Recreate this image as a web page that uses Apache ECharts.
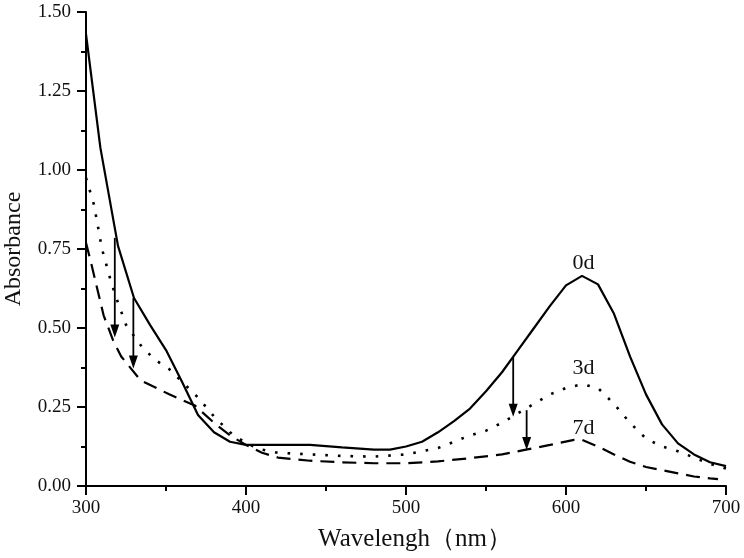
<!DOCTYPE html>
<html>
<head>
<meta charset="utf-8">
<script src="https://cdn.jsdelivr.net/npm/echarts@6/dist/echarts.min.js"></script>
<style>html,body{margin:0;padding:0;background:#fff}#c{width:744px;height:558px}</style>
</head>
<body>
<div id="c"></div>
<script>
// ---- data ----
const xTicks = [300, 400, 500, 600, 700];
const yTicks = [0.00, 0.25, 0.50, 0.75, 1.00, 1.25, 1.50];

const wl0d = [300,309,320,330,340,350,360,370,380,390,400,420,440,460,480,490,500,510,520,530,540,550,560,570,580,590,600,610,620,630,640,650,660,670,680,690,700];
const abs0d = [1.43,1.07,0.76,0.595,0.51,0.43,0.33,0.225,0.17,0.14,0.13,0.13,0.13,0.122,0.115,0.115,0.125,0.14,0.17,0.205,0.245,0.30,0.36,0.43,0.50,0.57,0.635,0.665,0.638,0.545,0.41,0.29,0.195,0.135,0.10,0.075,0.063];

const wl3d = [300,305,310,316,320,325,335,343,352,360,370,380,390,400,410,420,440,460,480,500,520,540,550,560,570,580,590,600,610,620,630,640,650,660,670,680,690,700];
const abs3d = [0.975,0.89,0.75,0.64,0.58,0.51,0.44,0.40,0.37,0.33,0.28,0.22,0.17,0.135,0.115,0.105,0.10,0.095,0.093,0.10,0.12,0.16,0.175,0.20,0.23,0.26,0.29,0.31,0.322,0.31,0.26,0.20,0.15,0.125,0.11,0.09,0.07,0.055];

const wl7d = [300,303,311,317,322,334,352,368,380,390,400,410,420,440,460,480,500,520,540,560,575,590,605,610,620,630,640,650,660,670,680,690,695];
const abs7d = [0.77,0.71,0.54,0.46,0.41,0.335,0.29,0.255,0.20,0.16,0.13,0.105,0.09,0.08,0.075,0.072,0.072,0.078,0.088,0.10,0.115,0.13,0.146,0.146,0.125,0.10,0.077,0.06,0.05,0.04,0.03,0.024,0.022];

const arrowX = [318, 329.6, 567, 575.4];
const arrowFrom = [0.785, 0.595, 0.409, 0.24];
const arrowTo = [0.47, 0.372, 0.219, 0.114];

const labelText = ['0d', '3d', '7d'];
const labelX = [611, 611, 611];
const labelY = [0.706, 0.373, 0.184];

const xName = 'Wavelengh（nm）';
const yName = 'Absorbance';

// ---- chart ----
const FONT = '"Liberation Serif", "Times New Roman", serif';
const chart = echarts.init(document.getElementById('c'), null, {renderer: 'canvas'});
const zip = (a, b) => a.map((v, i) => [v, b[i]]);

const axisCommon = {
  axisLine: {show: true, lineStyle: {color: '#000', width: 2}},
  axisTick: {show: true, inside: false, length: 9, lineStyle: {color: '#000', width: 2}},
  minorTick: {show: true, splitNumber: 2, length: 5, lineStyle: {color: '#000', width: 2}},
  splitLine: {show: false},
  minorSplitLine: {show: false},
};

chart.setOption({
  animation: false,
  backgroundColor: '#fff',
  grid: {left: 86, right: 18, top: 12, bottom: 72, containLabel: false, outerBoundsMode: 'none'},
  xAxis: Object.assign({
    type: 'value', min: xTicks[0], max: xTicks[xTicks.length - 1], interval: 100,
    name: xName, nameLocation: 'middle', nameGap: 41,
    nameTextStyle: {fontFamily: FONT, fontSize: 25, color: '#111', padding: [0, 0, 0, 18]},
    axisLabel: {fontFamily: FONT, fontSize: 19, color: '#111', margin: 13}
  }, axisCommon),
  yAxis: Object.assign({
    type: 'value', min: yTicks[0], max: yTicks[yTicks.length - 1], interval: 0.25,
    name: yName, nameLocation: 'middle', nameGap: 60, nameRotate: 90,
    nameTextStyle: {fontFamily: FONT, fontSize: 24, color: '#111'},
    axisLabel: {fontFamily: FONT, fontSize: 19, color: '#111', margin: 15,
      formatter: v => v.toFixed(2)}
  }, axisCommon),
  series: [
    {type: 'line', data: zip(wl0d, abs0d), showSymbol: false, symbol: 'none',
      lineStyle: {color: '#000', width: 2.2, type: 'solid'}, z: 3},
    {type: 'line', data: zip(wl3d, abs3d), showSymbol: false, symbol: 'none',
      lineStyle: {color: '#000', width: 2.6, type: [2.6, 10], cap: 'butt'}, z: 3},
    {type: 'line', data: zip(wl7d, abs7d), showSymbol: false, symbol: 'none',
      lineStyle: {color: '#000', width: 2.2, type: [14, 8]}, z: 3},
    {type: 'custom', data: arrowX.map((x, i) => [x, arrowFrom[i], arrowTo[i]]), z: 4,
      renderItem: function (params, api) {
        const p1 = api.coord([api.value(0), api.value(1)]);
        const p2 = api.coord([api.value(0), api.value(2)]);
        const hl = 13, hw = 4.5;
        return {type: 'group', children: [
          {type: 'line', shape: {x1: p1[0], y1: p1[1], x2: p2[0], y2: p2[1] - hl + 2},
            style: {stroke: '#000', lineWidth: 1.8}},
          {type: 'polygon', shape: {points: [[p2[0], p2[1]], [p2[0] - hw, p2[1] - hl], [p2[0] + hw, p2[1] - hl]]},
            style: {fill: '#000'}}
        ]};
      }},
    {type: 'custom', data: labelX.map((x, i) => [x, labelY[i], i]), z: 5,
      renderItem: function (params, api) {
        const p = api.coord([api.value(0), api.value(1)]);
        return {type: 'text', x: p[0], y: p[1],
          style: {text: labelText[api.value(2)], fontFamily: FONT, fontSize: 22,
            fill: '#111', align: 'center', verticalAlign: 'middle'}};
      }}
  ]
});
</script>
</body>
</html>
